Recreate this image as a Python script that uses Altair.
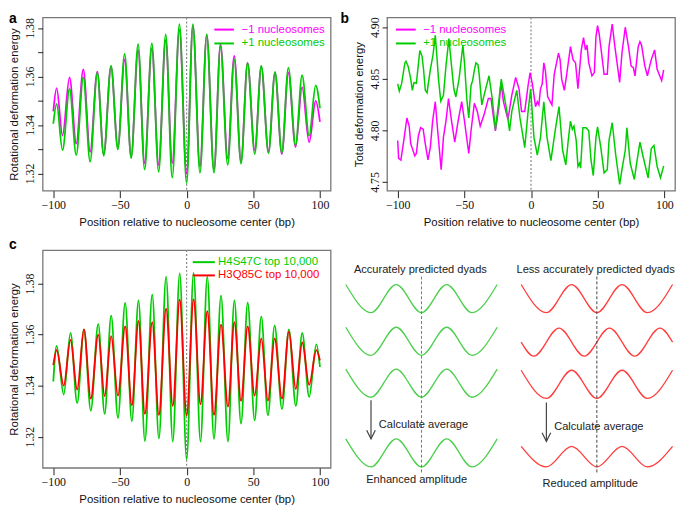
import altair as alt
import pandas as pd

# ---------------- panel a : rotational deformation energy (-1 / +1 nucleosomes) ----------------
a_x = [-100, -97.5, -93.1, -87.8, -82.8, -77.5, -72.4, -67.0, -62.2, -56.7,
       -51.6, -46.5, -41.6, -36.4, -31.5, -26.1, -21.0, -15.7, -10.8, -5.4,
       0.0, 4.7, 10.0, 15.1, 20.5, 25.4, 30.8, 35.7, 40.8, 45.7,
       51.1, 56.0, 61.4, 66.3, 71.4, 76.3, 81.7, 86.6, 91.9, 96.8, 100]
a_plus = [1.3405, 1.3487, 1.3296, 1.3549, 1.3276, 1.3596, 1.3249, 1.3616, 1.3273, 1.3645,
          1.3299, 1.3693, 1.3263, 1.3733, 1.3216, 1.3736, 1.3207, 1.3773, 1.3183, 1.3816,
          1.3160, 1.3816, 1.3203, 1.3773, 1.3203, 1.3725, 1.3236, 1.3669, 1.3240, 1.3656,
          1.3280, 1.3645, 1.3283, 1.3619, 1.3285, 1.3636, 1.3316, 1.3605, 1.3356, 1.3563, 1.3469]
a_minus = [1.3456, 1.3552, 1.3356, 1.3596, 1.3323, 1.3629, 1.3289, 1.3620, 1.3280, 1.3640,
           1.3310, 1.3669, 1.3270, 1.3709, 1.3243, 1.3716, 1.3236, 1.3750, 1.3243, 1.3792,
           1.3199, 1.3810, 1.3229, 1.3770, 1.3216, 1.3733, 1.3263, 1.3685, 1.3250, 1.3656,
           1.3296, 1.3640, 1.3290, 1.3616, 1.3280, 1.3616, 1.3309, 1.3556, 1.3329, 1.3499, 1.3413]

# ---------------- panel b : total deformation energy ----------------
b_plus_x = [-100, -98.8, -97.1, -94.6, -93.8, -92.2, -90.2, -89.0, -87.8, -86.0,
            -83.4, -81.7, -80.5, -79.3, -78.0, -75.5, -73.5, -71.8, -70.6, -69.4,
            -67.7, -65.7, -63.8, -61.6, -59.6, -57.9, -56.4, -54.0, -51.1, -49.9,
            -48.2, -46.7, -45.0, -43.8, -42.6, -41.3, -39.8, -38.9, -36.9, -35.2,
            -31.5, -29.1, -26.7, -24.2, -22.3, -19.8, -18.1, -16.1, -14.4, -10.7,
            -8.3, -4.7, -2.2, -0.3, 2.2, 4.7, 7.1, 9.6, 12.0, 14.9,
            18.1, 21.0, 23.7, 26.1, 27.9, 29.6, 31.0, 32.2, 33.9, 35.2,
            36.4, 37.2, 38.9, 41.3, 43.3, 45.0, 46.7, 48.7, 49.9, 52.3,
            54.8, 57.2, 58.5, 60.9, 63.4, 66.5, 68.2, 70.7, 71.9, 74.4,
            77.5, 79.2, 81.7, 84.1, 87.8, 90.2, 92.2, 94.6, 97.1, 99.5]
b_plus_y = [4.845, 4.8381, 4.845, 4.8654, 4.867, 4.8623, 4.8497, 4.8388, 4.8463, 4.8457,
            4.8774, 4.8718, 4.8576, 4.8388, 4.8365, 4.8591, 4.8733, 4.8921, 4.8718, 4.8497,
            4.8284, 4.8341, 4.8623, 4.889, 4.8623, 4.8403, 4.8325, 4.8497, 4.8827, 4.8654,
            4.8309, 4.812, 4.8435, 4.8482, 4.8576, 4.8654, 4.8638, 4.8544, 4.8247, 4.8341,
            4.8529, 4.8309, 4.8011, 4.8278, 4.8497, 4.8309, 4.8184, 4.7995, 4.8184, 4.8388,
            4.8121, 4.7832, 4.8184, 4.8401, 4.7932, 4.776, 4.7932, 4.8278, 4.7932, 4.7706,
            4.7995, 4.8231, 4.7807, 4.7666, 4.7901, 4.809, 4.8011, 4.8042, 4.7901, 4.765,
            4.7681, 4.7634, 4.8026, 4.8026, 4.7995, 4.7713, 4.7562, 4.7932, 4.8033, 4.7838,
            4.7588, 4.7619, 4.7901, 4.8074, 4.7776, 4.7477, 4.7619, 4.7807, 4.8026, 4.7681,
            4.7524, 4.7681, 4.7885, 4.7744, 4.754, 4.7823, 4.7854, 4.765, 4.754, 4.7656]
b_minus_x = [-100, -99.3, -97.6, -95.1, -93.1, -91.4, -90.2, -89.0, -87.2, -86.0,
             -84.5, -82.8, -80.9, -79.3, -77.3, -75.5, -73.8, -71.8, -70.2, -67.4,
             -65.7, -63.8, -61.9, -59.6, -57.2, -54.7, -52.0, -49.9, -46.7, -45.0,
             -42.5, -40.3, -38.1, -35.2, -32.0, -30.0, -28.1, -26.7, -24.2, -22.5,
             -20.7, -17.3, -14.4, -11.5, -9.0, -7.1, -4.7, -2.2, -0.7, 1.0,
             3.4, 4.7, 5.9, 7.1, 8.4, 9.6, 10.8, 12.5, 15.7, 17.4,
             20.6, 21.8, 23.0, 25.0, 26.6, 29.6, 31.5, 33.4, 35.2, 37.7,
             39.4, 40.8, 42.0, 43.3, 45.7, 47.5, 48.7, 49.9, 51.1, 52.3,
             54.8, 57.2, 58.5, 60.9, 62.9, 66.5, 68.2, 70.7, 73.1, 75.1,
             76.8, 78.0, 80.4, 81.7, 82.9, 85.4, 87.3, 89.0, 90.2, 92.7,
             94.6, 98.0, 99.5]
b_minus_y = [4.7901, 4.7729, 4.7711, 4.7932, 4.812, 4.8042, 4.787, 4.7823, 4.7753, 4.7776,
             4.7948, 4.8026, 4.8011, 4.787, 4.7713, 4.7838, 4.809, 4.8278, 4.8026, 4.7619,
             4.7932, 4.809, 4.8309, 4.809, 4.7885, 4.809, 4.8278, 4.809, 4.7776, 4.7995,
             4.8262, 4.8184, 4.8042, 4.8153, 4.8309, 4.8309, 4.8121, 4.7995, 4.8215, 4.8466,
             4.8278, 4.8105, 4.8341, 4.8513, 4.8403, 4.8184, 4.8184, 4.8435, 4.856, 4.845,
             4.823, 4.8278, 4.8247, 4.8403, 4.845, 4.8654, 4.8576, 4.8325, 4.8247, 4.8544,
             4.8749, 4.8686, 4.8497, 4.8388, 4.8529, 4.8812, 4.8686, 4.8654, 4.8403, 4.878,
             4.8899, 4.878, 4.8827, 4.8654, 4.8529, 4.856, 4.8906, 4.9015, 4.8937, 4.8812,
             4.8544, 4.8544, 4.8812, 4.9031, 4.8812, 4.8466, 4.875, 4.90, 4.8812, 4.8623,
             4.8607, 4.8529, 4.8812, 4.8859, 4.8827, 4.8623, 4.8529, 4.8623, 4.8686, 4.878,
             4.8592, 4.8482, 4.8586]

# ---------------- panel c : H4S47C vs H3Q85C ----------------
c_x = [-100, -97.5, -92.2, -87.1, -82.1, -77.0, -71.9, -66.3, -61.5, -56.6,
       -51.5, -46.1, -41.1, -36.1, -31.3, -25.8, -20.8, -15.4, -10.4, -5.2,
       0.0, 5.2, 10.4, 15.5, 20.5, 25.8, 31.0, 35.8, 40.8, 45.8,
       51.0, 56.0, 61.0, 66.0, 71.5, 76.7, 81.9, 86.7, 91.9, 97.3, 100]
c_h4 = [1.3416, 1.3556, 1.3365, 1.3607, 1.3331, 1.3620, 1.3302, 1.3642, 1.3289, 1.3674,
        1.3273, 1.3724, 1.3261, 1.3734, 1.3183, 1.3756, 1.3193, 1.3827, 1.3181, 1.3840,
        1.3111, 1.3842, 1.3181, 1.3827, 1.3191, 1.3753, 1.3181, 1.3734, 1.3251, 1.3725,
        1.3264, 1.3670, 1.3283, 1.3636, 1.3308, 1.3620, 1.3321, 1.3607, 1.3356, 1.3562, 1.3473]
c_h3 = [1.3480, 1.3539, 1.3400, 1.3579, 1.3384, 1.3620, 1.3349, 1.3600, 1.3359, 1.3594,
        1.3361, 1.3632, 1.3323, 1.3654, 1.3289, 1.3649, 1.3285, 1.3702, 1.3321, 1.3737,
        1.3283, 1.3738, 1.3327, 1.3692, 1.3285, 1.3639, 1.3318, 1.3649, 1.3340, 1.3632,
        1.3361, 1.3585, 1.3340, 1.3585, 1.3349, 1.3611, 1.3387, 1.3569, 1.3403, 1.3539, 1.3499]

# ---------------- axis ticks ----------------
x_ticks = [-100, -50, 0, 50, 100]
a_yticks = [1.32, 1.33, 1.34, 1.35, 1.36, 1.37, 1.38]
b_yticks = [4.75, 4.80, 4.85, 4.90]
c_yticks = [1.32, 1.34, 1.36, 1.38]

# ---------------- schematic (half-period positions and wave values) ----------------
wave_in_u = [0, 1, 2, 3, 4, 5, 6]
wave_in_v = [1, -1, 1, -1, 1, -1, 1]
wave_sh_u = [0, 0.5, 1.5, 2.5, 3.5, 4.5, 5.5, 6]
wave_sh_v = [0, -1, 1, -1, 1, -1, 1, 0]
green_rows = [0.0, -3.04, -6.02]
red_rows = [0.0, -3.10, -6.10]
red_row_kind = ["in", "shift", "in"]
green_avg = (-10.98, 1.0)
red_avg = (-11.25, 0.73)
red_group_offset = 6.95

SANS = "Liberation Sans"
SERIF = "Liberation Serif"
MAGENTA = "#ff00ff"
GREEN = "#00cd00"
RED = "#ff0000"
SGREEN = "#4ccf4c"
SRED = "#ff3d3d"
W = 291
H1 = 175
H2 = 220
XDOM = [-108, 108]
TICKFS = 12

one = pd.DataFrame({"k": [0]})


def x_enc():
    return alt.X("x:Q", scale=alt.Scale(domain=XDOM, nice=False, zero=False),
                 axis=alt.Axis(values=x_ticks, format="d",
                               title="Position relative to nucleosome center (bp)",
                               grid=False, domain=False, tickSize=7, tickColor="#222",
                               labelFont=SERIF, labelFontSize=TICKFS, labelColor="#111",
                               labelPadding=2, labelOverlap=False,
                               titleFont=SANS, titleFontSize=11.5, titleFontWeight="normal",
                               titleColor="#111", titlePadding=6))


def y_enc(title, ydom, ticks, label_expr=None):
    kw = dict(values=ticks, format=".2f", title=title, grid=False, domain=False,
              tickSize=5, tickColor="#222", labelFont=SERIF, labelFontSize=TICKFS,
              labelColor="#111", labelAngle=270, labelAlign="center",
              labelBaseline="bottom", labelPadding=1, labelOverlap=False,
              titleFont=SANS, titleFontSize=11.5, titleFontWeight="normal",
              titleColor="#111", titlePadding=4)
    if label_expr:
        kw["labelExpr"] = label_expr
    return alt.Y("y:Q", scale=alt.Scale(domain=ydom, nice=False, zero=False),
                 axis=alt.Axis(**kw))


def series(xs, ys, color, width, interp, yenc):
    df = pd.DataFrame({"x": xs, "y": ys})
    return alt.Chart(df).mark_line(color=color, strokeWidth=width, interpolate=interp).encode(
        x=x_enc(), y=yenc)


def zero_rule():
    return alt.Chart(pd.DataFrame({"x": [0]})).mark_rule(
        color="#888", strokeDash=[2, 2], strokeWidth=1.2).encode(x=x_enc())


def leg_line(x1, x2, yv, color):
    return alt.Chart(one).mark_rule(color=color, strokeWidth=2).encode(
        x=alt.value(x1), x2=alt.value(x2), y=alt.value(yv))


def leg_text(xv, yv, text, color):
    return alt.Chart(one).mark_text(text=text, align="left", baseline="middle",
                                    font=SANS, fontSize=11.5, color=color).encode(
        x=alt.value(xv), y=alt.value(yv))


def panel_title(letter, dx, offset):
    return alt.TitleParams(text=letter, anchor="start", frame="group", dx=dx, offset=offset,
                           fontSize=14, fontWeight="bold", font=SANS, color="#000")


# ---- panel a
ya = y_enc("Rotational deformation energy", [1.3129, 1.3843], a_yticks,
           "(round(datum.value*100) % 2 == 0) ? datum.label : ''")
pa = alt.layer(
    zero_rule(),
    series(a_x, a_minus, MAGENTA, 1.8, "monotone", ya),
    series(a_x, a_plus, GREEN, 1.8, "monotone", ya),
    leg_line(173.5, 193.3, 12.2, MAGENTA),
    leg_line(173.5, 193.3, 26.2, GREEN),
    leg_text(201, 12.2, "\u22121 nucleosomes", MAGENTA),
    leg_text(201, 26.2, "+1 nucleosomes", GREEN),
).properties(width=W, height=H1, title=panel_title("a", -34, -9))

# ---- panel b
yb = y_enc("Total deformation energy", [4.7415, 4.9094], b_yticks)
pb = alt.layer(
    zero_rule(),
    series(b_minus_x, b_minus_y, MAGENTA, 1.5, "linear", yb),
    series(b_plus_x, b_plus_y, GREEN, 1.5, "linear", yb),
    leg_line(9, 29, 12.2, MAGENTA),
    leg_line(9, 29, 26.2, GREEN),
    leg_text(36.5, 12.2, "\u22121 nucleosomes", MAGENTA),
    leg_text(36.5, 26.2, "+1 nucleosomes", GREEN),
).properties(width=W, height=H1, title=panel_title("b", -47, -9))

# ---- panel c
yc = y_enc("Rotational deformation energy", [1.3078, 1.3931], c_yticks)
pc = alt.layer(
    zero_rule(),
    series(c_x, c_h4, GREEN, 1.8, "monotone", yc),
    series(c_x, c_h3, RED, 1.8, "monotone", yc),
    leg_line(151.7, 174, 12.2, GREEN),
    leg_line(151.7, 174, 25.6, RED),
    leg_text(177.3, 12.2, "H4S47C top 10,000", GREEN),
    leg_text(177.3, 25.6, " H3Q85C top 10,000", RED),
).properties(width=W, height=H2, title=panel_title("c", -34, -3))

# ---- schematic
rows = []
for i, c in enumerate(green_rows):
    for u, v in zip(wave_in_u, wave_in_v):
        rows.append({"u": u, "v": c + v, "wave": f"g{i}", "grp": "g"})
for u, v in zip(wave_in_u, wave_in_v):
    rows.append({"u": u, "v": green_avg[0] + green_avg[1] * v, "wave": "gavg", "grp": "g"})
for i, (c, kind) in enumerate(zip(red_rows, red_row_kind)):
    us, vs = (wave_in_u, wave_in_v) if kind == "in" else (wave_sh_u, wave_sh_v)
    for u, v in zip(us, vs):
        rows.append({"u": red_group_offset + u, "v": c + v, "wave": f"r{i}", "grp": "r"})
for u, v in zip(wave_in_u, wave_in_v):
    rows.append({"u": red_group_offset + u, "v": red_avg[0] + red_avg[1] * v,
                 "wave": "ravg", "grp": "r"})
sdf = pd.DataFrame(rows)

SX = alt.Scale(domain=[1.635, 13.047], nice=False, zero=False)
SY = alt.Scale(domain=[-12.04, 3.45], nice=False, zero=False)

waves = alt.Chart(sdf).mark_line(interpolate="monotone", strokeWidth=1.3).encode(
    x=alt.X("u:Q", scale=SX, axis=None),
    y=alt.Y("v:Q", scale=SY, axis=None),
    detail="wave:N",
    color=alt.Color("grp:N", scale=alt.Scale(domain=["g", "r"], range=[SGREEN, SRED]),
                    legend=None),
)

dash_df = pd.DataFrame({"u": [3.0, red_group_offset + 3.0], "v1": [1.57, 1.57],
                        "v2": [-12.51, -12.51], "c": ["#777", "#444"]})
dashes = alt.Chart(dash_df).mark_rule(strokeDash=[3, 2], strokeWidth=1).encode(
    x=alt.X("u:Q", scale=SX, axis=None), y=alt.Y("v1:Q", scale=SY, axis=None),
    y2="v2:Q", color=alt.Color("c:N", scale=None))

arrow_df = pd.DataFrame({"u": [1.0, red_group_offset + 1.0], "v1": [-7.23, -7.39],
                         "v2": [-9.98, -10.16]})
arrows = alt.Chart(arrow_df).mark_rule(color="#444", strokeWidth=1.2).encode(
    x=alt.X("u:Q", scale=SX, axis=None), y=alt.Y("v1:Q", scale=SY, axis=None), y2="v2:Q")
heads = alt.Chart(arrow_df).mark_point(shape="M-1,-2L0,0L1,-2", filled=False, size=76,
                                       color="#444", strokeWidth=1.2, opacity=1).encode(
    x=alt.X("u:Q", scale=SX, axis=None), y=alt.Y("v2:Q", scale=SY, axis=None))

ctext_df = pd.DataFrame({
    "u": [2.957, 9.90, 2.81, 9.69],
    "v": [2.0, 2.0, -12.94, -13.22],
    "t": ["Accurately predicted dyads", "Less accurately predicted dyads",
          "Enhanced amplitude", "Reduced amplitude"]})
ctexts = alt.Chart(ctext_df).mark_text(align="center", baseline="middle", font=SANS,
                                       fontSize=11.2, color="#222").encode(
    x=alt.X("u:Q", scale=SX, axis=None), y=alt.Y("v:Q", scale=SY, axis=None), text="t:N")
ltext_df = pd.DataFrame({"u": [1.31, 8.26], "v": [-9.01, -9.15],
                         "t": ["Calculate average", "Calculate average"]})
ltexts = alt.Chart(ltext_df).mark_text(align="left", baseline="middle", font=SANS,
                                       fontSize=11.2, color="#222").encode(
    x=alt.X("u:Q", scale=SX, axis=None), y=alt.Y("v:Q", scale=SY, axis=None), text="t:N")

ps = alt.layer(waves, dashes, arrows, heads, ctexts, ltexts).properties(
    width=W, height=H2, view=alt.ViewBackground(stroke="transparent"))

chart = alt.concat(pa, pb, pc, ps, columns=2, spacing={"row": 60, "column": 57},
                   bounds="flush").properties(padding=0).configure_view(
    stroke="#777", strokeWidth=1.3)

chart.save("out.html", embed_options={"renderer": "svg", "actions": False})
